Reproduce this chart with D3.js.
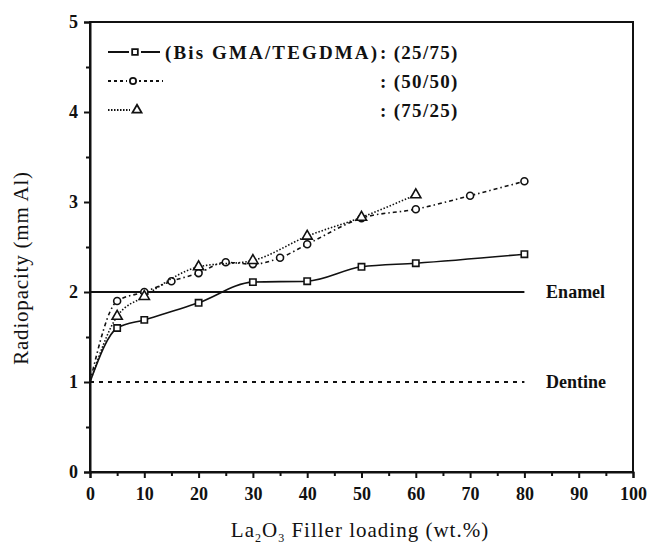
<!DOCTYPE html>
<html>
<head>
<meta charset="utf-8">
<script src="https://cdn.jsdelivr.net/npm/d3@7"></script>
<style>
  body { margin: 0; background: #fff; }
  svg text { font-family: "Liberation Serif", "DejaVu Serif", serif; fill: #111; }
</style>
</head>
<body>
<div id="chart"></div>
<script>
// data
var xTicks = [0, 10, 20, 30, 40, 50, 60, 70, 80, 90, 100];
var yTicks = [0, 1, 2, 3, 4, 5];
// (25/75) squares
var sqX = [5, 10, 20, 30, 40, 50, 60, 80];
var sqY = [1.6, 1.69, 1.88, 2.11, 2.12, 2.28, 2.32, 2.42];
// (50/50) circles
var ciX = [5, 10, 15, 20, 25, 30, 35, 40, 50, 60, 70, 80];
var ciY = [1.9, 2.0, 2.12, 2.21, 2.33, 2.31, 2.38, 2.53, 2.82, 2.92, 3.07, 3.23];
// (75/25) triangles
var trX = [5, 10, 20, 30, 40, 50, 60];
var trY = [1.73, 1.95, 2.28, 2.35, 2.62, 2.83, 3.08];
// all curves start here (no marker)
var start = {x: 0, y: 1.0};
var enamel = 2, dentine = 1, refEnd = 80;

function zipPts (xs, ys) {
  return xs.map(function (d, i) { return {x: d, y: ys[i]}; });
}

var W = 648, H = 551;
var svg = d3.select('#chart').append('svg').attr('width', W).attr('height', H);
var x = d3.scaleLinear().domain([0, 100]).range([90, 633]);
var y = d3.scaleLinear().domain([0, 5]).range([472, 22]);

// frame
svg.append('rect')
  .attr('x', x(0)).attr('y', y(5))
  .attr('width', x(100) - x(0)).attr('height', y(0) - y(5))
  .attr('fill', 'none').attr('stroke', '#111').attr('stroke-width', 2);

// axes
var xAxis = d3.axisBottom(x).tickValues(d3.range(0, 101, 5)).tickSize(6)
  .tickFormat(function (d) { return xTicks.indexOf(d) >= 0 ? d : ''; });
var gx = svg.append('g').attr('transform', 'translate(0,' + y(0) + ')').call(xAxis);
var yAxis = d3.axisLeft(y).tickValues(d3.range(0, 5.01, 0.5)).tickSize(6)
  .tickFormat(function (d) { return yTicks.indexOf(d) >= 0 ? d : ''; });
var gy = svg.append('g').attr('transform', 'translate(' + x(0) + ',0)').call(yAxis);
[gx, gy].forEach(function (g) {
  g.select('.domain').attr('stroke', '#111').attr('stroke-width', 2);
  g.selectAll('.tick line').attr('stroke', '#111').attr('stroke-width', 2);
  g.selectAll('.tick text').style('font-family', '"Liberation Serif", serif')
    .style('font-size', '18px').style('font-weight', 'bold').attr('fill', '#111');
});
gx.selectAll('.tick text').attr('dy', '1.05em');
gx.selectAll('.tick').filter(function (d) { return d % 10 !== 0; }).select('line').attr('y2', 4);
gy.selectAll('.tick').filter(function (d) { return d % 1 !== 0; }).select('line').attr('x2', -4);
gy.selectAll('.tick text').attr('x', -12);

// reference lines
svg.append('line').attr('x1', x(0)).attr('x2', x(refEnd)).attr('y1', y(enamel)).attr('y2', y(enamel))
  .attr('stroke', '#111').attr('stroke-width', 2);
svg.append('line').attr('x1', x(0)).attr('x2', x(refEnd)).attr('y1', y(dentine)).attr('y2', y(dentine))
  .attr('stroke', '#111').attr('stroke-width', 2).attr('stroke-dasharray', '4,5');
svg.append('text').attr('x', x(84)).attr('y', y(enamel) + 6).style('font-size', '18px')
  .style('font-weight', 'bold').text('Enamel');
svg.append('text').attr('x', x(84)).attr('y', y(dentine) + 6).style('font-size', '18px')
  .style('font-weight', 'bold').text('Dentine');

var line = d3.line().x(function (d) { return x(d.x); }).y(function (d) { return y(d.y); })
  .curve(d3.curveMonotoneX);

var series = [
  {xs: sqX, ys: sqY, dash: null, shape: d3.symbolSquare, size: 40},
  {xs: ciX, ys: ciY, dash: '4,3,1.5,3', shape: d3.symbolCircle, size: 38},
  {xs: trX, ys: trY, dash: '1.5,1.8', shape: d3.symbolTriangle, size: 45}
];
series.forEach(function (s) {
  var pts = [start].concat(zipPts(s.xs, s.ys));
  svg.append('path').attr('d', line(pts)).attr('fill', 'none')
    .attr('stroke', '#111').attr('stroke-width', 1.6)
    .attr('stroke-dasharray', s.dash);
  svg.selectAll(null).data(zipPts(s.xs, s.ys)).enter().append('path')
    .attr('d', d3.symbol().type(s.shape).size(s.size))
    .attr('transform', function (d) { return 'translate(' + x(d.x) + ',' + y(d.y) + ')'; })
    .attr('fill', '#fff').attr('stroke', '#111').attr('stroke-width', 1.6);
});

// legend
var leg = [
  {y: 52, x1: 108, x2: 160, mx: 135, dash: null, s: series[0], label: '(Bis GMA/TEGDMA)', ratio: ': (25/75)'},
  {y: 81, x1: 108, x2: 163, mx: 133, dash: '3,3', s: series[1], label: '', ratio: ': (50/50)'},
  {y: 110, x1: 108, x2: 130, mx: 137, dash: '1.5,1.5', s: series[2], label: '', ratio: ': (75/25)'}
];
leg.forEach(function (l) {
  svg.append('line').attr('x1', l.x1).attr('x2', l.x2).attr('y1', l.y).attr('y2', l.y)
    .attr('stroke', '#111').attr('stroke-width', 2).attr('stroke-dasharray', l.dash);
  svg.append('rect').attr('x', l.mx - 6).attr('y', l.y - 6).attr('width', 12).attr('height', 12).attr('fill', '#fff');
  svg.append('path').attr('d', d3.symbol().type(l.s.shape).size(l.s.size * 0.8))
    .attr('transform', 'translate(' + l.mx + ',' + l.y + ')')
    .attr('fill', '#fff').attr('stroke', '#111').attr('stroke-width', 1.8);
  if (l.label) {
    svg.append('text').attr('x', 165).attr('y', l.y + 7)
      .attr('textLength', 212).attr('lengthAdjust', 'spacing')
      .style('font-size', '19px').style('font-weight', 'bold').text(l.label);
  }
  svg.append('text').attr('x', 380).attr('y', l.y + 7).style('font-size', '19px')
    .style('font-weight', 'bold').style('letter-spacing', '1.3px').text(l.ratio);
});

// axis titles
svg.append('text').attr('transform', 'translate(28,' + 268 + ') rotate(-90)')
  .attr('text-anchor', 'middle').style('font-size', '21px').style('letter-spacing', '0.8px')
  .text('Radiopacity (mm Al)');
var xt = svg.append('text').attr('x', 360).attr('y', 537).attr('text-anchor', 'middle')
  .style('font-size', '21px').style('letter-spacing', '1px');
xt.append('tspan').text('La');
xt.append('tspan').attr('dy', 5).style('font-size', '12px').text('2');
xt.append('tspan').attr('dy', -5).text('O');
xt.append('tspan').attr('dy', 5).style('font-size', '12px').text('3');
xt.append('tspan').attr('dy', -5).text(' Filler loading (wt.%)');
</script>
</body>
</html>
